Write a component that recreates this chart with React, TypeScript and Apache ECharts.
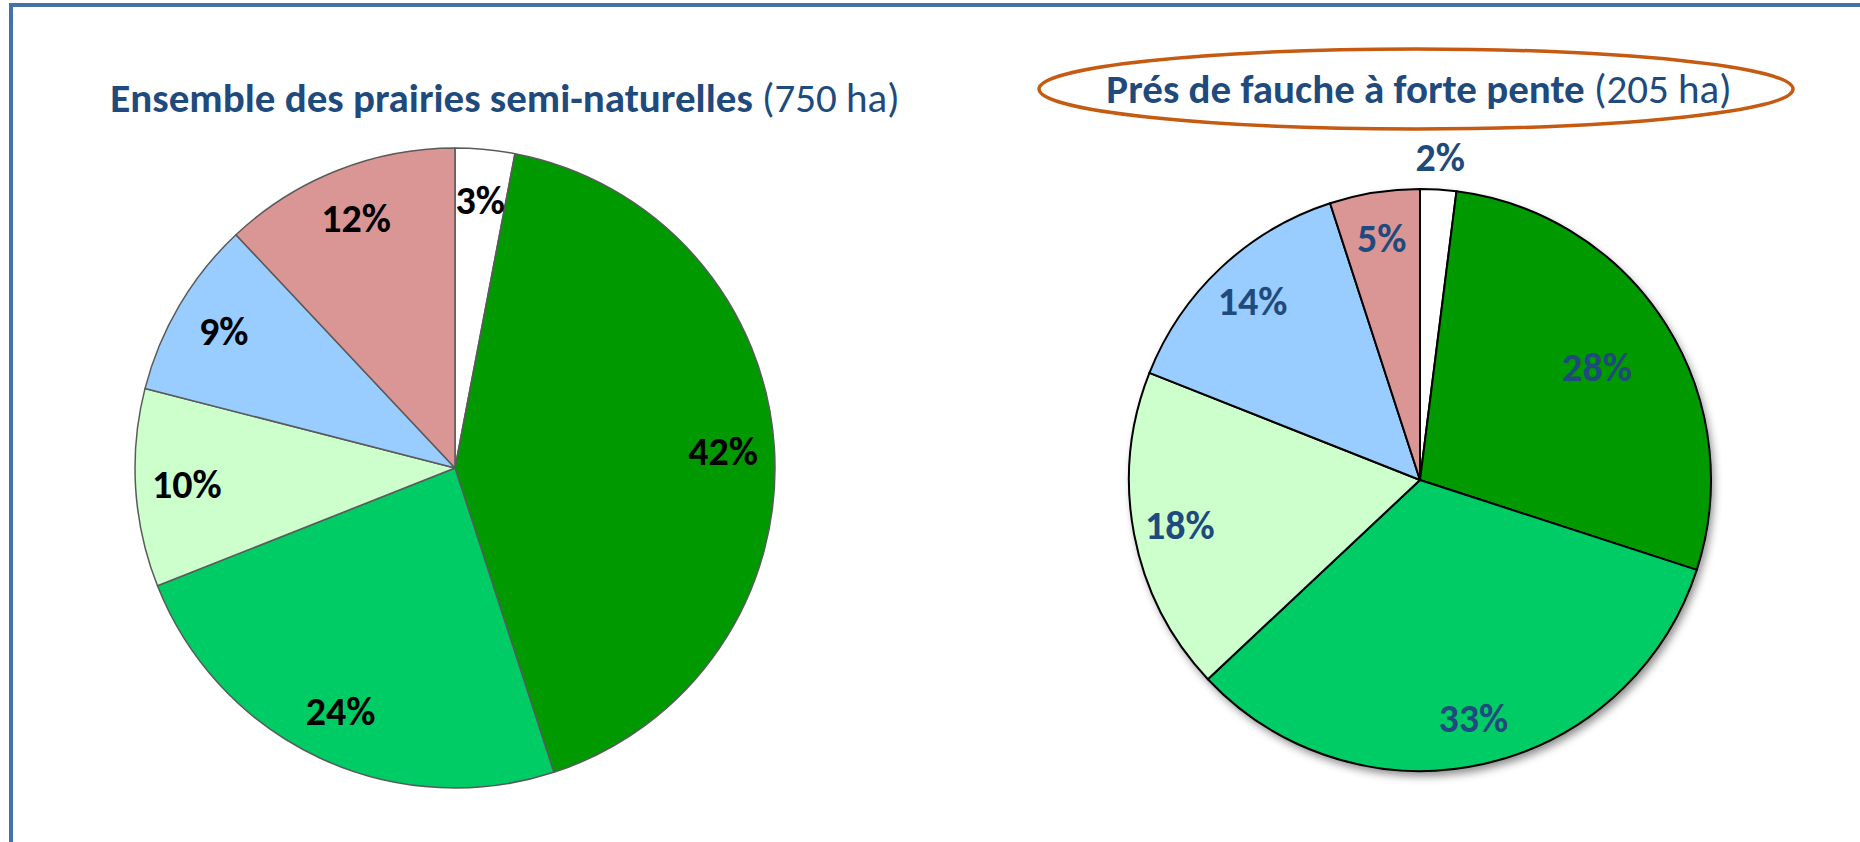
import React, { useEffect, useRef } from "react";
import * as echarts from "echarts";

// ---- Data ----
const categories = ["Cat. 1", "Cat. 2", "Cat. 3", "Cat. 4", "Cat. 5", "Cat. 6"];
const sliceColors = ["#FFFFFF", "#009900", "#00CC66", "#CCFFCC", "#99CCFF", "#D99694"];
const leftValues = [3, 42, 24, 10, 9, 12];
const rightValues = [2, 28, 33, 18, 14, 5];
const leftTitleBold = "Ensemble des prairies semi-naturelles";
const leftTitleNormal = "(750 ha)";
const rightTitleBold = "Prés de fauche à forte pente";
const rightTitleNormal = "(205 ha)";

const TITLE_FONT = "Carlito, 'Liberation Sans Narrow', 'Open Sans', sans-serif";
const LABEL_FONT = "Carlito, 'Open Sans', sans-serif";
const NAVY = "#1F4A7D";

export default function App() {
  const ref = useRef<HTMLDivElement>(null);

  useEffect(() => {
    if (!ref.current) return;
    const chart = echarts.init(ref.current, undefined, { renderer: "svg" });

    const L = { cx: 455, cy: 468, r: 320 };
    const R = { cx: 1420, cy: 480, r: 291 };

    const mk = (vals: number[]) =>
      vals.map((v, i) => ({ name: categories[i], value: v, itemStyle: { color: sliceColors[i] } }));

    const labelOverlay = (
      c: { cx: number; cy: number; r: number },
      vals: number[],
      r0: number,
      r1: number,
      showIdx: number[],
      color: string
    ) => ({
      type: "pie",
      center: [c.cx, c.cy],
      radius: [r0, r1],
      startAngle: 90,
      clockwise: true,
      silent: true,
      z: 5,
      itemStyle: { color: "rgba(0,0,0,0)", borderWidth: 0 },
      labelLine: { show: false },
      label: {
        show: true,
        position: "inside",
        formatter: "{c}%",
        color,
        fontFamily: LABEL_FONT,
        fontWeight: "bold",
        fontSize: 40,
      },
      data: vals.map((v, i) => ({
        name: categories[i],
        value: v,
        label: { show: showIdx.includes(i) },
      })),
    });

    const titleRich = {
      b: { fontFamily: TITLE_FONT, fontWeight: "bold", fontSize: 41, fill: NAVY },
      n: { fontFamily: TITLE_FONT, fontWeight: "normal", fontSize: 41, fill: NAVY },
    };

    chart.setOption({
      animation: false,
      backgroundColor: "#FFFFFF",
      series: [
        // left pie
        {
          type: "pie",
          center: [L.cx, L.cy],
          radius: [0, L.r],
          startAngle: 90,
          clockwise: true,
          silent: true,
          z: 2,
          label: { show: false },
          labelLine: { show: false },
          itemStyle: { borderColor: "#5A5A5A", borderWidth: 1.5 },
          data: mk(leftValues),
        },
        labelOverlay(L, leftValues, L.r * 0.66, L.r, [0, 1, 2, 3, 4, 5], "#000000"),
        // right pie shadow
        {
          type: "pie",
          center: [R.cx, R.cy],
          radius: [0, R.r],
          silent: true,
          z: 1,
          label: { show: false },
          labelLine: { show: false },
          itemStyle: {
            color: "#000000",
            shadowBlur: 8,
            shadowOffsetX: 3,
            shadowOffsetY: 5,
            shadowColor: "rgba(0,0,0,0.45)",
          },
          data: [{ name: "shadow", value: 1 }],
        },
        // right pie
        {
          type: "pie",
          center: [R.cx, R.cy],
          radius: [0, R.r],
          startAngle: 90,
          clockwise: true,
          silent: true,
          z: 2,
          label: { show: false },
          labelLine: { show: false },
          itemStyle: { borderColor: "#000000", borderWidth: 2 },
          data: mk(rightValues),
        },
        labelOverlay(R, rightValues, R.r * 0.66, R.r, [2, 3, 4, 5], NAVY),
        labelOverlay(R, rightValues, R.r * 0.42, R.r, [1], NAVY),
        labelOverlay(R, rightValues, R.r, R.r * 1.2, [0], NAVY),
      ],
      graphic: [
        { type: "line", shape: { x1: 9, y1: 5, x2: 1860, y2: 5 }, style: { stroke: "#4472A4", lineWidth: 4 } },
        { type: "line", shape: { x1: 11, y1: 3, x2: 11, y2: 842 }, style: { stroke: "#4472A4", lineWidth: 4 } },
        {
          type: "ellipse",
          shape: { cx: 1416, cy: 89, rx: 377, ry: 40 },
          style: { fill: "none", stroke: "#C55A11", lineWidth: 3.5 },
        },
        {
          type: "text",
          x: 505,
          y: 98,
          style: {
            text: `{b|${leftTitleBold}}{n| ${leftTitleNormal}}`,
            align: "center",
            verticalAlign: "middle",
            rich: titleRich,
          },
        },
        {
          type: "text",
          x: 1419,
          y: 89,
          style: {
            text: `{b|${rightTitleBold}}{n| ${rightTitleNormal}}`,
            align: "center",
            verticalAlign: "middle",
            rich: titleRich,
          },
        },
      ],
    });

    return () => chart.dispose();
  }, []);

  return (
    <div
      ref={ref}
      style={{ position: "absolute", left: 0, top: 0, width: 1860, height: 842, background: "#fff" }}
    />
  );
}
